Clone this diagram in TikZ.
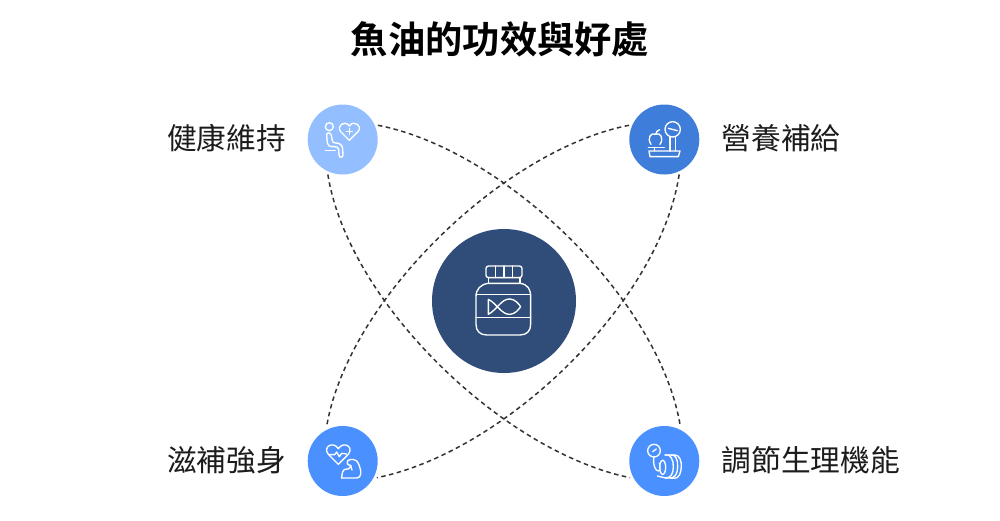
\documentclass[tikz,border=0pt]{standalone}
\usepackage{fontspec}
\setmainfont{Noto Sans CJK TC}
\newfontfamily\titlefont{Noto Sans CJK TC Bold}
\definecolor{cTL}{HTML}{93BEFF}
\definecolor{cTR}{HTML}{3F7DDB}
\definecolor{cB}{HTML}{4A90FF}
\definecolor{cC}{HTML}{2F4D78}
\definecolor{ink}{HTML}{1C1C1C}
\tikzset{
 hub/.style={circle,minimum size=70pt,inner sep=0pt,outer sep=3pt},
 lbl/.style={font=\fontsize{29.7pt}{31pt}\selectfont,text=ink,inner sep=0pt},
 link/.style={draw=ink!90,line width=1.5pt,dash pattern=on 4.5pt off 3.5pt},
 ico/.style={draw=white,line width=1.35pt,line cap=round,line join=round,fill=none},
}
\begin{document}
\begin{tikzpicture}[x=1pt,y=-1pt]
\useasboundingbox (0,0) rectangle (1000,520);
\fill[white] (0,0) rectangle (1000,520);
\node[font=\titlefont\fontsize{37.3pt}{39pt}\selectfont,text=black,inner sep=0pt] (title) at (500,39) {魚油的功效與好處};
\node[circle,minimum size=144pt,inner sep=0pt,fill=cC] (center) at (504,301) {};
\node[hub,fill=cTL] (tl) at (342.7,139.5) {};
\node[hub,fill=cTR] (tr) at (664.3,139.5) {};
\node[hub,fill=cB] (bl) at (342.7,461) {};
\node[hub,fill=cB] (br) at (664.3,461) {};
\node[lbl,anchor=east] (ltl) at (286,138) {健康維持};
\node[lbl,anchor=west] (ltr) at (721.5,138) {營養補給};
\node[lbl,anchor=east] (lbl) at (286,460) {滋補強身};
\node[lbl,anchor=west] (lbr) at (721.5,460) {調節生理機能};
\draw[link] (tl.22) .. controls (505,150) and (660,300) .. (br.65);
\draw[link] (tl.247) .. controls (348,302) and (503,452) .. (br.206);
\draw[link] (tr.158) .. controls (503,150) and (348,300) .. (bl.115);
\draw[link] (tr.293) .. controls (660,302) and (505,452) .. (bl.334);
% jar
\begin{scope}[shift={(460,255)},x=0.3333pt,y=-0.3333pt]
\draw[ico,rounded corners=2.5pt] (78,33) rectangle (186,68);
\draw[ico] (106,33)--(106,68) (132,33)--(132,68) (158,33)--(158,68);
\draw[ico] (85,68)--(85,85) (180,68)--(180,85);
\draw[ico] (85,85) .. controls (62,88) and (48,102) .. (48,125) -- (48,208) .. controls (48,228) and (60,240) .. (80,240) -- (180,240) .. controls (200,240) and (212,228) .. (212,208) -- (212,125) .. controls (212,102) and (203,88) .. (180,85) -- cycle;
\draw[ico] (48,118)--(212,118) (48,188)--(212,188);
\draw[ico] (85,133)--(85,178) .. controls (110,165) and (125,130) .. (150,132) .. controls (165,133) and (175,145) .. (182,155) .. controls (175,165) and (165,177) .. (150,178) .. controls (125,180) and (110,145) .. (85,133);
\end{scope}
% person and heart
\begin{scope}[shift={(290,90)},x=0.3333pt,y=-0.3333pt]
\draw[ico] (118,110) circle[radius=12];
\draw[ico] (110,136) .. controls (108,126) and (122,126) .. (124,136) -- (127,152) .. controls (128,157) and (132,159) .. (138,159) .. controls (150,159) and (157,166) .. (158,176) -- (159,195) .. controls (159,204) and (147,204) .. (147,195) -- (146,178) .. controls (145,172) and (140,170) .. (134,170) -- (126,170) .. controls (118,170) and (113,166) .. (112,158) -- cycle;
\draw[ico] (106,182)--(136,182);
\draw[ico] (178,151) -- (152,125) .. controls (138,108) and (165,88) .. (178,108) .. controls (191,88) and (220,108) .. (204,125) -- cycle;
\draw[ico] (178,115)--(178,133) (169,124)--(187,124);
\end{scope}
% apple and scale
\begin{scope}[shift={(615,90)},x=0.3333pt,y=-0.3333pt]
\draw[ico] (173,118) circle[radius=23];
\draw[ico] (160,115)--(187,122);
\draw[ico] (165,141)--(165,183) (182,141)--(182,183);
\draw[ico] (108,163) .. controls (95,145) and (108,125) .. (122,133) .. controls (135,125) and (148,145) .. (135,163);
\draw[ico] (122,133) .. controls (122,126) and (128,121) .. (134,119);
\draw[ico] (100,172)--(148,172) (118,172)--(118,183);
\draw[ico] (102,183) -- (195,183) -- (190,200) -- (105,200) -- cycle;
\end{scope}
% heart and arm
\begin{scope}[shift={(290,410)},x=0.3333pt,y=-0.3333pt]
\draw[ico] (145,163) -- (115,133) .. controls (97,110) and (130,92) .. (145,116) .. controls (160,92) and (193,110) .. (175,133) -- cycle;
\draw[ico] (118,134)--(134,134)--(140,126)--(148,140)--(155,130)--(170,132);
\draw[ico] (155,204)--(200,204) .. controls (215,204) and (216,185) .. (205,160) .. controls (200,146) and (180,146) .. (173,152) .. controls (168,158) and (172,166) .. (182,166) -- (186,180);
\draw[ico] (182,166) .. controls (180,178) and (172,178) .. (165,178) .. controls (158,180) and (156,190) .. (155,204);
\end{scope}
% gauge and coil
\begin{scope}[shift={(615,410)},x=0.3333pt,y=-0.3333pt]
\draw[ico] (117,122) circle[radius=19];
\draw[ico] (113,125)--(124,117);
\draw[ico] (117,141) .. controls (112,165) and (122,183) .. (130,183) .. controls (138,183) and (134,165) .. (133,160);
\draw[ico] (143,172) ellipse[x radius=9,y radius=21];
\draw[ico] (150,135) .. controls (165,128) and (176,150) .. (175,170) .. controls (175,190) and (168,205) .. (152,204) -- (127,198);
\draw[ico] (168,135) .. controls (182,132) and (189,150) .. (188,170) .. controls (188,190) and (180,205) .. (165,204) -- (152,204);
\draw[ico] (150,135)--(180,135) .. controls (193,135) and (200,152) .. (199,170) .. controls (198,190) and (192,205) .. (178,205) -- (165,204);
\end{scope}
\end{tikzpicture}
\end{document}
